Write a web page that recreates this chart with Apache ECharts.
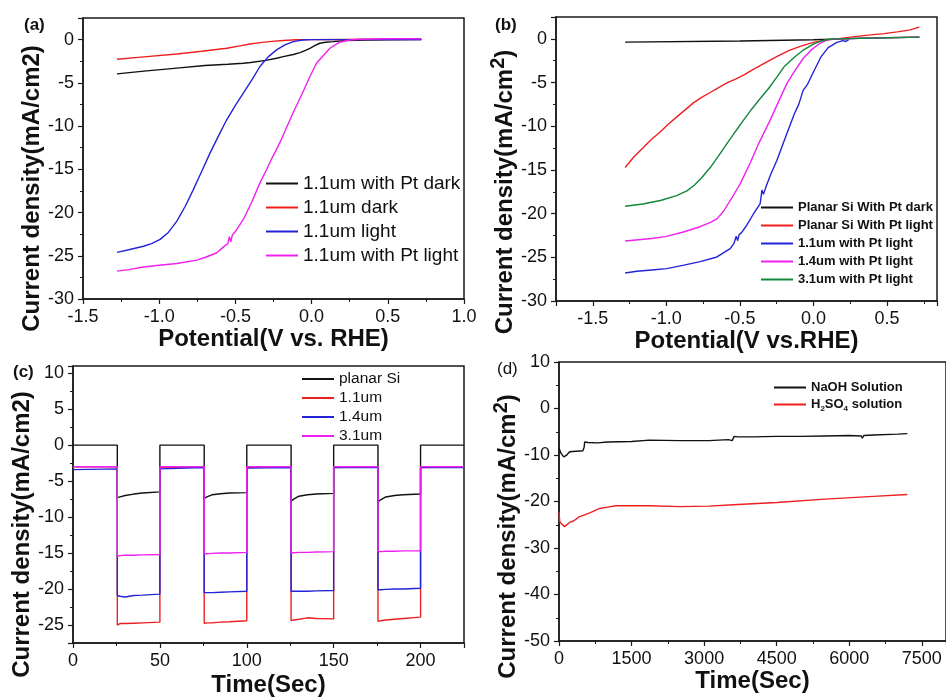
<!DOCTYPE html>
<html><head><meta charset="utf-8">
<script src="https://cdn.jsdelivr.net/npm/echarts@6/dist/echarts.min.js"></script>
<style>html,body{margin:0;padding:0;background:#fff}#c{width:946px;height:698px}</style>
</head><body><div id="c"></div>
<script>
// ---------- Panel (a) ----------
const aPtDarkX = [-1.277,-1.1,-0.884,-0.7,-0.55,-0.448,-0.4,-0.3,-0.23,-0.186,-0.12,-0.077,-0.04,-0.011,0.02,0.054,0.09,0.141,0.23,0.36,0.5,0.72];
const aPtDarkY = [-3.96,-3.65,-3.3,-3.0,-2.85,-2.73,-2.65,-2.4,-2.15,-1.96,-1.72,-1.5,-1.25,-1.0,-0.7,-0.42,-0.3,-0.23,-0.1,-0.05,-0.02,0.0];
const aDarkX = [-1.277,-1.1,-0.884,-0.72,-0.557,-0.47,-0.404,-0.339,-0.26,-0.186,-0.1,-0.03,0.2,0.5,0.72];
const aDarkY = [-2.27,-2.0,-1.67,-1.35,-1.0,-0.72,-0.5,-0.35,-0.2,-0.1,-0.02,0,0.02,0.04,0.05];
const aLightX = [-1.277,-1.2,-1.103,-1.05,-0.994,-0.94,-0.884,-0.83,-0.776,-0.72,-0.666,-0.61,-0.557,-0.5,-0.448,-0.39,-0.339,-0.285,-0.23,-0.175,-0.12,-0.06,0,0.2,0.5,0.72];
const aLightY = [-24.6,-24.3,-23.9,-23.6,-23.1,-22.3,-21.0,-19.3,-17.35,-15.2,-13.1,-11.1,-9.27,-7.6,-6.19,-4.6,-3.11,-2.0,-1.19,-0.6,-0.23,-0.05,0,0,0,0];
const aPtLightX = [-1.277,-1.2,-1.103,-1.0,-0.884,-0.753,-0.7,-0.622,-0.58,-0.55,-0.54,-0.53,-0.52,-0.5,-0.448,-0.39,-0.339,-0.3,-0.26,-0.23,-0.2,-0.17,-0.14,-0.12,-0.09,-0.05,-0.011,0.032,0.076,0.12,0.16,0.185,0.23,0.3,0.5,0.72];
const aPtLightY = [-26.77,-26.6,-26.3,-26.1,-25.9,-25.5,-25.2,-24.65,-24.0,-23.6,-22.8,-23.4,-22.6,-22.2,-20.8,-18.7,-16.57,-15.2,-13.7,-12.7,-11.6,-10.4,-9.2,-8.4,-7.3,-5.8,-4.27,-2.73,-1.86,-1.0,-0.55,-0.3,-0.1,0.05,0.1,0.1];

// ---------- Panel (b) ----------
const bPlanarDarkX = [-1.28,-0.5,0,0.3,0.72];
const bPlanarDarkY = [-0.38,-0.25,-0.1,0.05,0.2];
const bPlanarLightX = [-1.28,-1.22,-1.156,-1.1,-1.042,-0.985,-0.929,-0.87,-0.816,-0.76,-0.702,-0.645,-0.588,-0.53,-0.475,-0.4,-0.316,-0.24,-0.16,-0.08,0,0.08,0.16,0.28,0.39,0.48,0.57,0.65,0.72];
const bPlanarLightY = [-14.73,-13.5,-12.44,-11.5,-10.65,-9.75,-8.93,-8.1,-7.33,-6.7,-6.14,-5.58,-5.04,-4.6,-4.16,-3.4,-2.63,-1.95,-1.3,-0.8,-0.4,-0.15,0,0.25,0.45,0.6,0.8,1.0,1.35];
const b11X = [-1.28,-1.2,-1.1,-0.997,-0.88,-0.77,-0.656,-0.566,-0.54,-0.525,-0.515,-0.505,-0.49,-0.452,-0.41,-0.362,-0.35,-0.34,-0.32,-0.29,-0.248,-0.18,-0.13,-0.1,-0.07,-0.04,0.0,0.05,0.1,0.16,0.2,0.22,0.24];
const b11Y = [-26.8,-26.6,-26.45,-26.3,-25.9,-25.5,-24.96,-24.0,-23.4,-22.6,-23.1,-22.4,-22.2,-21.3,-20.1,-18.85,-17.3,-17.8,-16.8,-15.5,-13.9,-10.8,-8.6,-7.5,-5.9,-5.2,-3.8,-2.1,-1.0,-0.4,-0.2,-0.3,-0.1];
const b14X = [-1.28,-1.1,-1.0,-0.884,-0.77,-0.7,-0.656,-0.61,-0.544,-0.498,-0.43,-0.37,-0.294,-0.235,-0.18,-0.125,-0.07,-0.01,0.05,0.1,0.16,0.4,0.72];
const b14Y = [-23.13,-22.85,-22.6,-22.1,-21.5,-21.0,-20.6,-19.7,-17.9,-16.6,-14.2,-11.9,-9.3,-7.1,-5.1,-3.6,-2.25,-1.2,-0.45,-0.1,0,0.1,0.2];
const b31X = [-1.28,-1.16,-1.04,-0.93,-0.86,-0.81,-0.76,-0.70,-0.645,-0.588,-0.53,-0.475,-0.42,-0.362,-0.305,-0.25,-0.2,-0.13,-0.07,0,0.05,0.1,0.16,0.4,0.72];
const b31Y = [-19.15,-18.9,-18.5,-17.95,-17.4,-16.75,-15.9,-14.7,-13.4,-12.0,-10.6,-9.3,-8.05,-6.83,-5.68,-4.4,-3.2,-2.1,-1.3,-0.6,-0.25,-0.08,0,0.1,0.2];

// ---------- Panel (c) ----------
const cTime = [0,25.5,25.5,27,30,35,40,50,50,75.5,75.5,77,80,85,90,100,100,125.5,125.5,127,130,135,140,150,150,175.5,175.5,177,180,185,190,200,200,225];
const cPlanar = [0,0,-7.3,-7.2,-7.0,-6.8,-6.65,-6.5,0,0,-7.4,-7.2,-6.9,-6.75,-6.65,-6.6,0,0,-7.8,-7.5,-7.1,-6.9,-6.8,-6.7,0,0,-7.9,-7.6,-7.2,-7.0,-6.9,-6.8,0,0];
const c11 = [-3.0,-3.0,-25.0,-24.8,-24.8,-24.75,-24.7,-24.6,-3.1,-3.0,-24.8,-24.7,-24.7,-24.6,-24.55,-24.4,-3.1,-3.0,-24.4,-24.3,-24.2,-24.0,-24.1,-24.15,-3.1,-3.0,-24.5,-24.4,-24.3,-24.2,-24.1,-23.9,-3.1,-3.0];
const c14 = [-3.4,-3.3,-20.9,-21.0,-21.1,-20.9,-20.85,-20.7,-3.3,-3.1,-20.5,-20.5,-20.5,-20.45,-20.4,-20.3,-3.2,-3.1,-20.3,-20.3,-20.3,-20.3,-20.25,-20.2,-3.1,-3.1,-20.1,-20.1,-20.05,-20.0,-20.0,-19.9,-3.1,-3.1];
const c31 = [-3.0,-3.0,-15.4,-15.35,-15.3,-15.3,-15.25,-15.2,-3.0,-3.0,-15.1,-15.1,-15.05,-15.0,-15.0,-14.9,-3.0,-3.0,-15.0,-14.95,-14.9,-14.9,-14.85,-14.8,-3.0,-3.0,-14.8,-14.8,-14.75,-14.75,-14.7,-14.7,-3.0,-3.0];

// ---------- Panel (d) ----------
const dNaOHT = [0,15,40,97,150,220,350,495,520,530,600,800,1000,1500,1870,2500,3100,3500,3580,3620,3700,4000,4500,4530,4560,5000,5500,6000,6250,6270,6300,6500,7000,7200];
const dNaOHY = [-8.5,-8.7,-9.6,-10.4,-10.1,-9.3,-9.2,-9.1,-8.3,-7.2,-7.3,-7.4,-7.2,-7.1,-6.8,-6.9,-6.9,-6.7,-6.9,-6.0,-6.1,-6.1,-6.0,-6.4,-6.0,-6.0,-5.9,-5.8,-5.9,-6.4,-5.8,-5.7,-5.5,-5.4];
const dH2SO4T = [0,15,50,117,220,300,415,500,650,840,1000,1180,1500,1870,2500,3100,3600,4500,5500,6500,7200];
const dH2SO4Y = [-22.2,-24.3,-24.8,-25.4,-24.5,-24.2,-23.3,-23.0,-22.4,-21.5,-21.2,-20.9,-20.9,-20.9,-21.1,-21.0,-20.7,-20.2,-19.5,-18.9,-18.5];

const zip = (xs, ys) => xs.map((x, i) => [x, ys[i]]);
const FONT = 'Liberation Sans';
const AX = '#1a1a1a';
const COL = {k:'#111111', r:'#ee1f1f', b:'#2323d8', m:'#f020f0', g:'#11883a'};

function axisBase(extra) {
  return Object.assign({
    axisLine: {show: true, onZero: false, lineStyle: {color: AX, width: 1.5}},
    axisTick: {show: true, inside: false, length: 5, lineStyle: {color: AX, width: 1.2}},
    minorTick: {show: true, splitNumber: 2, length: 3, lineStyle: {color: AX, width: 1}},
    splitLine: {show: false},
    axisLabel: {fontFamily: FONT, fontSize: 18, color: '#111', margin: 9},
    nameLocation: 'middle',
    nameTextStyle: {fontFamily: FONT, fontWeight: 'bold', fontSize: 24, color: '#111'}
  }, extra);
}
function merge(o, key, add) { o[key] = Object.assign({}, o[key], add); return o; }

const ylabName = 'Current density(mA/cm2)';
const ylabSup = 'Current density(mA/cm{sup|2})';
const supRich = {sup: {fontFamily: FONT, fontWeight: 'bold', fontSize: 20, color: '#111', padding: [0, 0, 14, 0]}};

const xAxes = [
  merge(axisBase({gridIndex: 0, type: 'value', min: -1.5, max: 1.0, interval: 0.5, name: 'Potential(V vs. RHE)', nameGap: 26}),
    'axisLabel', {formatter: v => v.toFixed(1)}),
  merge(axisBase({gridIndex: 1, type: 'value', min: -1.75, max: 0.84, name: 'Potential(V vs.RHE)', nameGap: 26}),
    'axisLabel', {formatter: v => v.toFixed(1), showMinLabel: false, showMaxLabel: false}),
  merge(axisBase({gridIndex: 2, type: 'value', min: 0, max: 225, interval: 50, name: 'Time(Sec)', nameGap: 30}),
    'axisLabel', {showMaxLabel: false}),
  merge(axisBase({gridIndex: 3, type: 'value', min: 0, max: 8000, interval: 1500, name: 'Time(Sec)', nameGap: 26}),
    'axisLabel', {formatter: v => String(v), showMaxLabel: false})
];
const yAxes = [
  merge(merge(axisBase({gridIndex: 0, type: 'value', min: -30, max: 2.5, interval: 5, name: ylabName, nameGap: 29}),
    'axisLabel', {showMaxLabel: false}), 'nameTextStyle', {padding: [0, 60, 0, 0]}),
  merge(merge(axisBase({gridIndex: 1, type: 'value', min: -30, max: 2.5, interval: 5, name: ylabSup, nameGap: 30}),
    'axisLabel', {showMaxLabel: false}), 'nameTextStyle', {rich: supRich, padding: [0, 66, 0, 0]}),
  merge(merge(axisBase({gridIndex: 2, type: 'value', min: -27.5, max: 11, splitNumber: 8, name: ylabName, nameGap: 31}),
    'axisLabel', {showMinLabel: false, showMaxLabel: false}), 'nameTextStyle', {padding: [0, 60, 0, 0]}),
  merge(merge(axisBase({gridIndex: 3, type: 'value', min: -50, max: 10, interval: 10, name: ylabSup, nameGap: 34}),
    'minorTick', {splitNumber: 2}), 'nameTextStyle', {rich: supRich, padding: [0, 70, 0, 0]})
];

function ser(name, color, xi, data) {
  return {type: 'line', name: name, xAxisIndex: xi, yAxisIndex: xi, data: data, symbol: 'none', showSymbol: false,
    lineStyle: {color: color, width: 1.4}, itemStyle: {color: color}, animation: false, silent: true};
}

const series = [
  ser('a:1.1um with Pt dark', COL.k, 0, zip(aPtDarkX, aPtDarkY)),
  ser('a:1.1um dark', COL.r, 0, zip(aDarkX, aDarkY)),
  ser('a:1.1um light', COL.b, 0, zip(aLightX, aLightY)),
  ser('a:1.1um with Pt light', COL.m, 0, zip(aPtLightX, aPtLightY)),
  ser('b:Planar Si With Pt dark', COL.k, 1, zip(bPlanarDarkX, bPlanarDarkY)),
  ser('b:Planar Si With Pt light', COL.r, 1, zip(bPlanarLightX, bPlanarLightY)),
  ser('b:1.1um with Pt light', COL.b, 1, zip(b11X, b11Y)),
  ser('b:1.4um with Pt light', COL.m, 1, zip(b14X, b14Y)),
  ser('b:3.1um with Pt light', COL.g, 1, zip(b31X, b31Y)),
  ser('c:planar Si', COL.k, 2, zip(cTime, cPlanar)),
  ser('c:1.1um', COL.r, 2, zip(cTime, c11)),
  ser('c:1.4um', COL.b, 2, zip(cTime, c14)),
  ser('c:3.1um', COL.m, 2, zip(cTime, c31)),
  ser('d:NaOH Solution', COL.k, 3, zip(dNaOHT, dNaOHY)),
  ser('d:H2SO4 solution', COL.r, 3, zip(dH2SO4T, dH2SO4Y))
];

function leg(prefix, left, top, fs, bold, gap) {
  return {
    data: series.filter(s => s.name.startsWith(prefix + ':')).map(s => s.name),
    orient: 'vertical', left: left, top: top, itemWidth: 32, itemHeight: 2, itemGap: gap, padding: 0,
    icon: 'rect', selectedMode: false,
    formatter: n => n === 'd:H2SO4 solution' ? 'H{sub|2}SO{sub|4} solution' : n.slice(2),
    textStyle: {fontFamily: FONT, fontSize: fs, fontWeight: bold ? 'bold' : 'normal', color: '#111',
      rich: {sub: {fontFamily: FONT, fontSize: 8, fontWeight: 'bold', color: '#111', padding: [8, 0, 0, 0]}}}
  };
}

const gridBox = {show: true, borderColor: AX, borderWidth: 1.5, backgroundColor: 'transparent'};
const option = {
  backgroundColor: '#fff',
  animation: false,
  grid: [
    Object.assign({left: 83, top: 18, width: 381, height: 281}, gridBox),
    Object.assign({left: 556, top: 17, width: 381, height: 284}, gridBox),
    Object.assign({left: 73, top: 366, width: 391, height: 279}, gridBox),
    Object.assign({left: 559, top: 362, width: 388, height: 279}, gridBox)
  ],
  xAxis: xAxes,
  yAxis: yAxes,
  legend: [
    leg('a', 266, 174, 19, false, 5),
    leg('b', 761, 201, 13, true, 5),
    leg('c', 302, 371, 15.5, false, 3),
    leg('d', 774, 381, 13, true, 4)
  ],
  graphic: [
    {type: 'text', left: 24, top: 17, style: {text: '(a)', font: 'bold 17px "Liberation Sans"', fill: '#111'}},
    {type: 'text', left: 495, top: 17, style: {text: '(b)', font: 'bold 17px "Liberation Sans"', fill: '#111'}},
    {type: 'text', left: 13, top: 364, style: {text: '(c)', font: 'bold 17px "Liberation Sans"', fill: '#111'}},
    {type: 'text', left: 497, top: 361, style: {text: '(d)', font: '17px "Liberation Sans"', fill: '#111'}}
  ],
  series: series
};
const chart = echarts.init(document.getElementById('c'), null, {renderer: 'canvas'});
chart.setOption(option);
</script></body></html>
